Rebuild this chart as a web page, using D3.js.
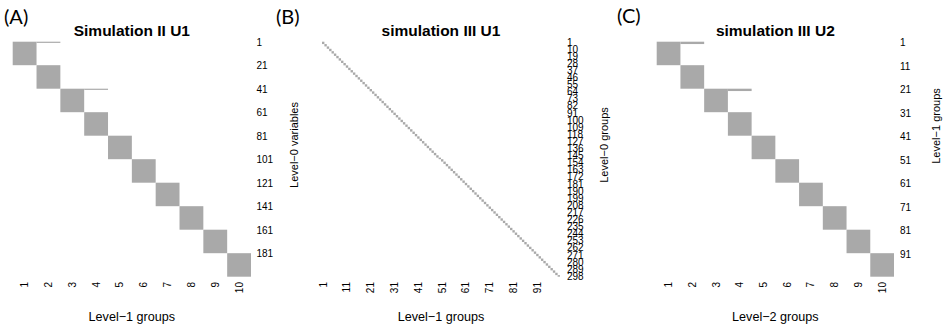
<!DOCTYPE html>
<html>
<head>
<meta charset="utf-8">
<script src="https://cdn.jsdelivr.net/npm/d3@7"></script>
<style>
  body { margin: 0; background: #fff; }
  svg text { font-family: "Liberation Sans", Arial, Helvetica, sans-serif; fill: #000; }
  svg text.plabel { font-family: Lato, "Open Sans", sans-serif; }
</style>
</head>
<body>
<div id="chart"></div>
<script>
// group sizes (rows per column)
const sizesA = [20, 20, 20, 20, 20, 20, 20, 20, 20, 20];
const extrasA = [[1, 2], [41, 4]];          // [row, column] extra memberships
const ticksAy = [1, 21, 41, 61, 81, 101, 121, 141, 161, 181];
const ticksAx = [1, 2, 3, 4, 5, 6, 7, 8, 9, 10];

const sizesB = [
  3, 3, 3, 3, 3, 3, 3, 3, 3, 3,
  3, 3, 3, 3, 3, 3, 3, 3, 3, 3,
  3, 3, 3, 3, 3, 3, 3, 3, 3, 3,
  3, 3, 3, 3, 3, 3, 3, 3, 3, 3,
  3, 3, 3, 3, 3, 3, 3, 3, 3, 2,
  3, 3, 3, 3, 3, 3, 3, 3, 3, 3,
  3, 3, 3, 3, 3, 3, 3, 3, 3, 3,
  3, 3, 3, 3, 3, 3, 3, 3, 3, 3,
  3, 3, 3, 3, 3, 3, 3, 3, 3, 3,
  3, 3, 3, 3, 3, 3, 3, 3, 3, 2
];
const extrasB = [];
const ticksBy = [1, 10, 19, 28, 37, 46, 55, 64, 73, 82, 91, 100, 109, 118, 127, 136, 145,
  154, 163, 172, 181, 190, 199, 208, 217, 226, 235, 244, 253, 262, 271, 280, 289, 298];
const ticksBx = [1, 11, 21, 31, 41, 51, 61, 71, 81, 91];

const sizesC = [10, 10, 10, 10, 10, 10, 10, 10, 10, 10];
const extrasC = [[1, 2], [21, 4]];
const ticksCy = [1, 11, 21, 31, 41, 51, 61, 71, 81, 91];
const ticksCx = [1, 2, 3, 4, 5, 6, 7, 8, 9, 10];

const W = 946, H = 331;
const fill = '#a9a9a9';
const plotTop = 41.7, plotBottom = 276.7;

const svg = d3.select('#chart').append('svg')
  .attr('width', W)
  .attr('height', H);

function drawPanel(p) {
  const nRows = d3.sum(p.sizes);
  const nCols = p.sizes.length;
  const x = d3.scaleBand().domain(d3.range(1, nCols + 1)).range([p.x0, p.x1]);
  const y = d3.scaleBand().domain(d3.range(1, nRows + 1)).range([plotTop, plotBottom]);

  // one block per column
  let start = 1;
  const blocks = p.sizes.map((s, i) => {
    const b = { col: i + 1, row: start, n: s };
    start += s;
    return b;
  });
  p.extras.forEach(e => blocks.push({ col: e[1], row: e[0], n: 1 }));

  const g = svg.append('g');
  g.selectAll('rect.cell')
    .data(blocks)
    .enter()
    .append('rect')
    .attr('class', 'cell')
    .attr('x', d => x(d.col))
    .attr('y', d => y(d.row))
    .attr('width', x.bandwidth())
    .attr('height', d => y.bandwidth() * d.n)
    .style('fill', fill);

  // title
  g.append('text')
    .attr('x', (p.x0 + p.x1) / 2)
    .attr('y', 36)
    .attr('text-anchor', 'middle')
    .attr('font-size', '15.5px')
    .attr('font-weight', 'bold')
    .text(p.title);

  // x tick labels, perpendicular
  g.selectAll('text.xt')
    .data(p.ticksX)
    .enter()
    .append('text')
    .attr('class', 'xt')
    .attr('transform', d => 'translate(' + (x(d) + x.bandwidth() / 2) + ',282) rotate(-90)')
    .attr('text-anchor', 'end')
    .attr('dominant-baseline', 'central')
    .attr('font-size', '10px')
    .text(d => d);

  // y tick labels on the right
  g.selectAll('text.yt')
    .data(p.ticksY)
    .enter()
    .append('text')
    .attr('class', 'yt')
    .attr('x', p.x1 + p.tickGap)
    .attr('y', d => y(d) + y.bandwidth() / 2)
    .attr('dominant-baseline', 'central')
    .attr('font-size', '10px')
    .text(d => d);

  // axis titles
  g.append('text')
    .attr('x', (p.x0 + p.x1) / 2)
    .attr('y', 317)
    .attr('text-anchor', 'middle')
    .attr('dominant-baseline', 'central')
    .attr('font-size', '12.6px')
    .text(p.xTitle);

  g.append('text')
    .attr('transform', 'translate(' + p.yTitleX + ',' + p.yTitleY + ') rotate(-90)')
    .attr('text-anchor', 'middle')
    .attr('dominant-baseline', 'central')
    .attr('font-size', '11px')
    .text(p.yTitle);

  // panel letter
  g.append('text')
    .attr('class', 'plabel')
    .attr('x', p.lx)
    .attr('y', p.ly)
    .attr('font-size', '20px')
    .text(p.label);
}

drawPanel({
  sizes: sizesA, extras: extrasA, ticksX: ticksAx, ticksY: ticksAy,
  x0: 12.7, x1: 251, tickGap: 5.5,
  title: 'Simulation II U1', xTitle: 'Level\u22121 groups', yTitle: 'Level\u22120 variables',
  yTitleX: 293.5, yTitleY: 145, label: '(A)', lx: 4, ly: 24
});

drawPanel({
  sizes: sizesB, extras: extrasB, ticksX: ticksBx, ticksY: ticksBy,
  x0: 322, x1: 560, tickGap: 7,
  title: 'simulation III U1', xTitle: 'Level\u22121 groups', yTitle: 'Level\u22120 groups',
  yTitleX: 604, yTitleY: 145, label: '(B)', lx: 276, ly: 24
});

drawPanel({
  sizes: sizesC, extras: extrasC, ticksX: ticksCx, ticksY: ticksCy,
  x0: 656.7, x1: 894, tickGap: 6,
  title: 'simulation III U2', xTitle: 'Level\u22122 groups', yTitle: 'Level\u22121 groups',
  yTitleX: 936, yTitleY: 126, label: '(C)', lx: 617, ly: 23
});
</script>
</body>
</html>
